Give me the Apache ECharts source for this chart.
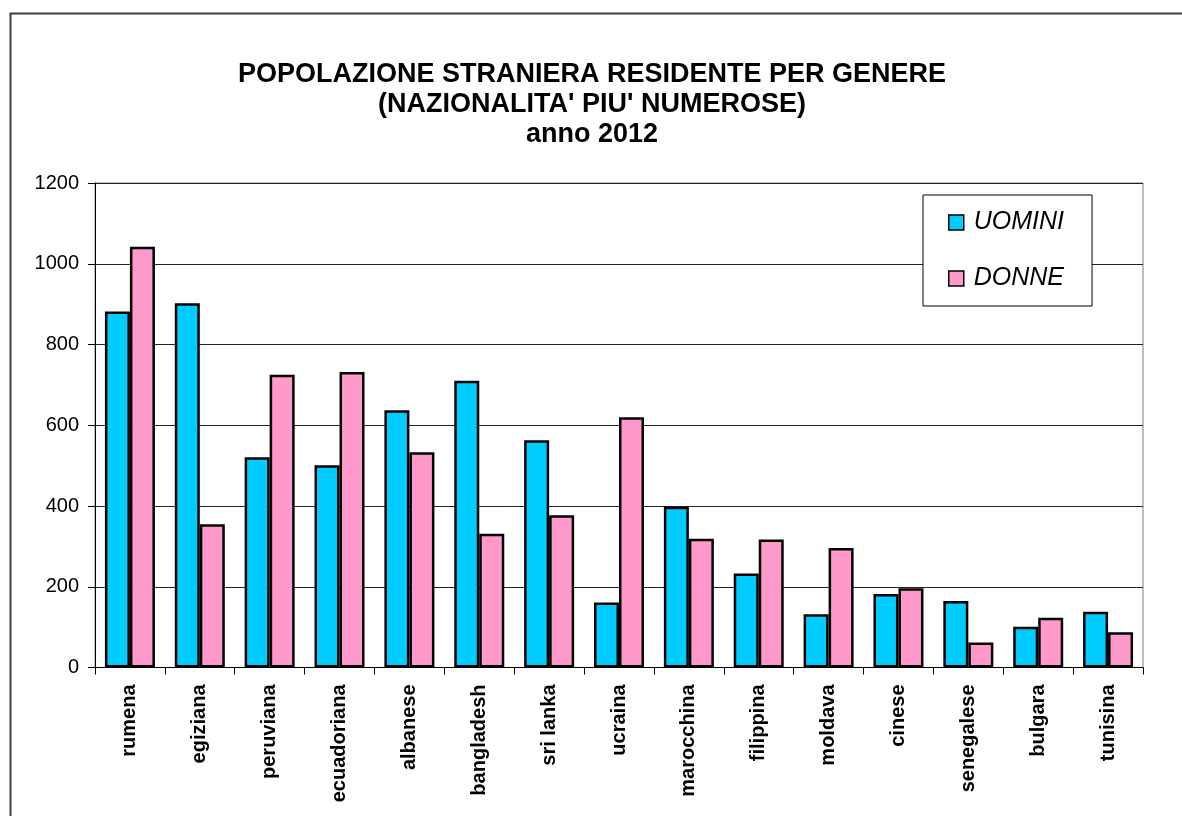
<!DOCTYPE html>
<html>
<head>
<meta charset="utf-8">
<script src="https://cdn.jsdelivr.net/npm/echarts@6/dist/echarts.min.js"></script>
<style>html,body{margin:0;padding:0;background:#fff;}#chart{width:1182px;height:816px;}</style>
</head>
<body>
<div id="chart"></div>
<script>
const categories = ['rumena','egiziana','peruviana','ecuadoriana','albanese','bangladesh','sri lanka','ucraina','marocchina','filippina','moldava','cinese','senegalese','bulgara','tunisina'];
const uomini = [882, 902, 521, 501, 637, 710, 563, 161, 398, 233, 132, 182, 165, 101, 138];
const donne  = [1042, 355, 725, 732, 533, 331, 377, 620, 319, 317, 296, 196, 62, 123, 87];
const titleLines = ['POPOLAZIONE STRANIERA RESIDENTE PER GENERE', "(NAZIONALITA' PIU' NUMEROSE)", 'anno 2012'];
const seriesNames = ['UOMINI', 'DONNE'];
const colors = ['#00CCFF', '#FF99CC'];
const FONT = '"Liberation Sans", Arial, sans-serif';

const chart = echarts.init(document.getElementById('chart'), null, {renderer: 'canvas'});
chart.setOption({
  backgroundColor: '#ffffff',
  animation: false,
  graphic: [{
    type: 'rect', left: 8, top: 11, z: -10,
    shape: {width: 1300, height: 900},
    style: {fill: 'none', stroke: '#404040', lineWidth: 2}
  }],
  title: {
    text: titleLines.join('\n'),
    left: 592, top: 60, textAlign: 'center', padding: 0,
    textStyle: {fontFamily: FONT, fontWeight: 'bold', fontSize: 27, lineHeight: 30, color: '#000'}
  },
  legend: {
    orient: 'vertical', left: 923, top: 195,
    padding: [15, 28, 15, 25],
    itemGap: 31, itemWidth: 15, itemHeight: 15,
    backgroundColor: '#fff', borderColor: '#000', borderWidth: 1,
    icon: 'rect',
    itemStyle: {borderColor: '#000', borderWidth: 1.5},
    textStyle: {fontFamily: FONT, fontStyle: 'italic', fontSize: 25, lineHeight: 24, color: '#000', padding: [0,0,0,5]},
    data: seriesNames
  },
  grid: {left: 95, right: 39, top: 183, bottom: 148.5, show: true, borderColor: '#808080', borderWidth: 1, containLabel: false},
  xAxis: {
    type: 'category', data: categories,
    axisLine: {lineStyle: {color: '#000', width: 1}},
    axisTick: {show: true, length: 7, lineStyle: {color: '#000'}},
    axisLabel: {rotate: 90, margin: 17, fontFamily: FONT, fontWeight: 'bold', fontSize: 20, color: '#000'}
  },
  yAxis: {
    type: 'value', min: 0, max: 1200, interval: 200,
    axisLine: {show: true, lineStyle: {color: '#000', width: 1}},
    axisTick: {show: true, length: 7, lineStyle: {color: '#000'}},
    splitLine: {show: true, lineStyle: {color: '#222', width: 1}},
    axisLabel: {margin: 16, fontFamily: FONT, fontSize: 20, color: '#000', formatter: function (v) { return String(v); }}
  },
  series: [
    {name: seriesNames[0], type: 'bar', data: uomini, barWidth: 25, barGap: '0%',
     itemStyle: {color: colors[0], borderColor: '#000', borderWidth: 2.5}},
    {name: seriesNames[1], type: 'bar', data: donne, barWidth: 25, barGap: '0%',
     itemStyle: {color: colors[1], borderColor: '#000', borderWidth: 2.5}}
  ]
});
</script>
</body>
</html>
